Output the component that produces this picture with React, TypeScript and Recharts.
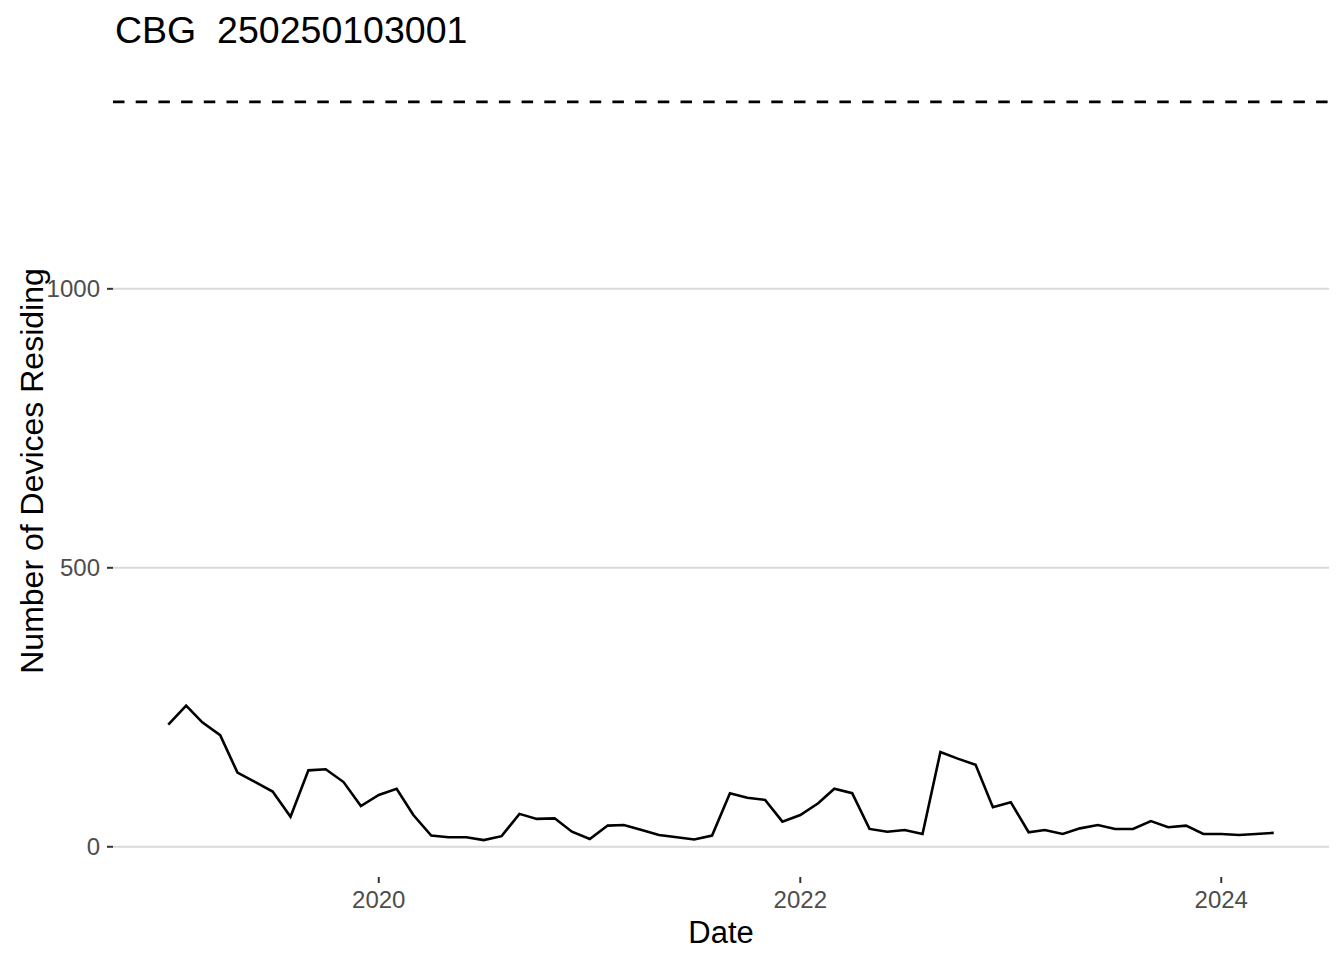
import React from "react";
import { LineChart, Line, XAxis, YAxis, CartesianGrid, ReferenceLine, Label } from "recharts";

const MONTHS = [
  "2019-01", "2019-02", "2019-03", "2019-04", "2019-05", "2019-06", "2019-07", "2019-08", "2019-09", "2019-10", "2019-11", "2019-12",
  "2020-01", "2020-02", "2020-03", "2020-04", "2020-05", "2020-06", "2020-07", "2020-08", "2020-09", "2020-10", "2020-11", "2020-12",
  "2021-01", "2021-02", "2021-03", "2021-04", "2021-05", "2021-06", "2021-07", "2021-08", "2021-09", "2021-10", "2021-11", "2021-12",
  "2022-01", "2022-02", "2022-03", "2022-04", "2022-05", "2022-06", "2022-07", "2022-08", "2022-09", "2022-10", "2022-11", "2022-12",
  "2023-01", "2023-02", "2023-03", "2023-04", "2023-05", "2023-06", "2023-07", "2023-08", "2023-09", "2023-10", "2023-11", "2023-12",
  "2024-01", "2024-02", "2024-03", "2024-04",
];

const DEVICES = [
  219, 253, 223, 200, 133, 116, 99, 54, 137, 139, 116, 73,
  93, 104, 57, 20, 17, 17, 12, 19, 59, 50, 51, 27,
  14, 38, 39, 30, 21, 17, 13, 20, 96, 88, 84, 45,
  57, 78, 104, 96, 32, 27, 30, 23, 170, 158, 147, 71,
  80, 26, 30, 23, 33, 39, 32, 32, 46, 35, 38, 23,
  23, 21, 23, 25,
];

const X_TICKS = ["2020-01", "2022-01", "2024-01"];
const Y_TICKS = [0, 500, 1000];
const THRESHOLD = 1335;
const TITLE = "CBG  250250103001";

const FONT = '"Liberation Sans", Arial, Helvetica, sans-serif';

const toTime = (m: string) => {
  const [y, mo] = m.split("-").map(Number);
  return Date.UTC(y, mo - 1, 1);
};

const data = MONTHS.map((m, i) => ({ t: toTime(m), devices: DEVICES[i] }));

// ggplot-style 5% expansion
const tMin = data[0].t;
const tMax = data[data.length - 1].t;
const tPad = (tMax - tMin) * 0.05;
const yMin = Math.min(...DEVICES, THRESHOLD);
const yMax = Math.max(...DEVICES, THRESHOLD);
const yPad = (yMax - yMin) * 0.05;

export default function App() {
  return (
    <div style={{ position: "absolute", left: 0, top: 0, width: 1344, height: 960, background: "#fff", fontFamily: FONT }}>
      <div style={{ position: "absolute", left: 115, top: 12, fontSize: 37.5, lineHeight: 1, color: "#000", whiteSpace: "pre" }}>
        {TITLE}
      </div>
      <LineChart width={1344} height={960} data={data} margin={{ top: 65, right: 15, bottom: 0, left: 0 }}>
        <CartesianGrid vertical={false} horizontalValues={Y_TICKS} stroke="#d9d9d9" strokeWidth={2} />
        <XAxis
          dataKey="t"
          type="number"
          scale="linear"
          domain={[tMin - tPad, tMax + tPad]}
          ticks={X_TICKS.map(toTime)}
          tickFormatter={(v: number) => String(new Date(v).getUTCFullYear())}
          axisLine={false}
          tickLine={{ stroke: "#333", strokeWidth: 2 }}
          tickSize={6}
          tickMargin={8}
          height={83}
          tick={{ fill: "#4d4d4d", fontSize: 24, fontFamily: FONT }}
        >
          <Label
            content={(props: any) => {
              const vb = props.viewBox;
              return (
                <text x={vb.x + vb.width / 2} y={943} textAnchor="middle" fontSize={31} fontFamily={FONT} fill="#000">
                  Date
                </text>
              );
            }}
          />
        </XAxis>
        <YAxis
          type="number"
          domain={[yMin - yPad, yMax + yPad]}
          ticks={Y_TICKS}
          axisLine={false}
          tickLine={{ stroke: "#333", strokeWidth: 2 }}
          tickSize={6}
          tickMargin={7}
          width={113}
          tick={{ fill: "#4d4d4d", fontSize: 24, fontFamily: FONT }}
        >
          <Label
            content={(props: any) => {
              const vb = props.viewBox;
              const cy = vb.y + vb.height / 2;
              return (
                <text x={43} y={cy} transform={`rotate(-90 43 ${cy})`} textAnchor="middle" fontSize={32} fontFamily={FONT} fill="#000">
                  Number of Devices Residing
                </text>
              );
            }}
          />
        </YAxis>
        <ReferenceLine y={THRESHOLD} stroke="#000" strokeWidth={2.8} strokeDasharray="11.5 11.2" />
        <Line type="linear" dataKey="devices" stroke="#000" strokeWidth={2.6} dot={false} isAnimationActive={false} />
      </LineChart>
    </div>
  );
}
